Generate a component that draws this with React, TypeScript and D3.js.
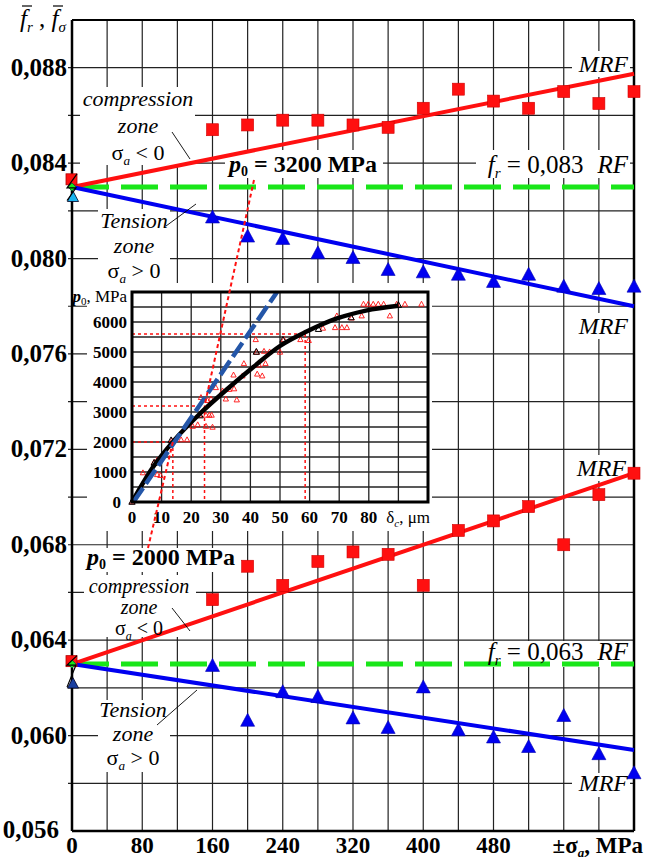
import React from "react";
import * as d3 from "d3";

const W = 656;
const H = 861;
const SERIF = "'Liberation Serif', 'Times New Roman', serif";

// Amplitude of the alternating stress, MPa
const stressLevels = [160, 200, 240, 280, 320, 360, 400, 440, 480, 520, 560, 600, 640];

// p0 = 3200 MPa
const compressionHigh = [0.0854, 0.0856, 0.0858, 0.0858, 0.0856, 0.0855, 0.0863, 0.0871, 0.0866, 0.0863, 0.087, 0.0865, 0.087];
const tensionHigh = [0.0817, 0.0809, 0.0808, 0.0802, 0.08, 0.0795, 0.0794, 0.0793, 0.079, 0.0793, 0.0788, 0.0787, 0.0788];
const rfHigh = 0.083;
const mrfCompressionHighEnd = 0.08775;
const mrfTensionHighEnd = 0.078;
const originHigh = { compression: 0.0833, tension: 0.0826 };

// p0 = 2000 MPa
const compressionLow = [0.0657, 0.0671, 0.0663, 0.0673, 0.0677, 0.0676, 0.0663, 0.0686, 0.069, 0.0696, 0.068, 0.0701, 0.071];
const tensionLow = [0.0629, 0.0606, 0.0618, 0.0616, 0.0607, 0.0603, 0.062, 0.0602, 0.0599, 0.0595, 0.0608, 0.0592, 0.0584];
const rfLow = 0.063;
const mrfCompressionLowEnd = 0.071;
const mrfTensionLowEnd = 0.0594;
const originLow = { compression: 0.0631, tension: 0.0622 };

const yTickValues = [0.056, 0.06, 0.064, 0.068, 0.072, 0.076, 0.08, 0.084, 0.088];
const yTickLabels = ["0,056", "0,060", "0,064", "0,068", "0,072", "0,076", "0,080", "0,084", "0,088"];
const xTickValues = [0, 80, 160, 240, 320, 400, 480];

// Inset: contact pressure p0 vs approach δc
const fitDelta = [0, 7, 14, 23, 32, 41, 50, 59, 69, 79, 90];
const fitPressure = [0, 1150, 2030, 2950, 3750, 4500, 5200, 5680, 6110, 6380, 6540];
const testDelta = [0, 3.7, 7.4, 8.5, 8.5, 9.6, 10.4, 13.4, 16.6, 18.6, 20.5, 22.2, 22.7, 25, 26.1, 26.9, 25, 27.2, 23.3, 25.5, 26.7, 28.3, 30.6, 31.7, 32.8, 34.5, 35.4, 34.3, 37.3, 37.8, 42.3, 44, 41.8, 42.1, 42.9, 44.6, 45.1, 46.5, 50, 51.3, 56.9, 59.7, 64.5, 68.6, 70.9, 72.6, 69.2, 74.2, 77.6, 78.2, 79.8, 81.5, 83.2, 85, 87.1, 89.4, 92.2, 97.8];
const testPressure = [0, 970, 1310, 1390, 910, 880, 1550, 2040, 2070, 2070, 2520, 2570, 2890, 2890, 2890, 2890, 2520, 2490, 3480, 3380, 3430, 3810, 3700, 3430, 3750, 3770, 3400, 4230, 4200, 4610, 4260, 4200, 5410, 4990, 4560, 5020, 4610, 5000, 4990, 5410, 5410, 5380, 5790, 5810, 5810, 5810, 6200, 6130, 6200, 6590, 6590, 6590, 6590, 6590, 6200, 6590, 6590, 6590];
const refDelta = [0, 7.5, 13.2, 23, 42, 51, 63, 74, 90];
const refPressure = [0, 1300, 2050, 2880, 5000, 5400, 5760, 6150, 6560];
const tangentDelta = [0.5, 49];
const tangentPressure = [0, 7000];
const markedDelta = [13.8, 24.5, 58.5];
const markedPressure = [2000, 3200, 5600];
const insetYTicks = [0, 1000, 2000, 3000, 4000, 5000, 6000];
const insetXTicks = [0, 10, 20, 30, 40, 50, 60, 70, 80];

const x = d3.scaleLinear().domain([0, 640]).range([72, 634]);
const y = d3.scaleLinear().domain([0.056, 0.09]).range([831, 20]);
const ix = d3.scaleLinear().domain([0, 100]).range([132, 428]);
const iy = d3.scaleLinear().domain([0, 7000]).range([502, 292]);

const RED = "#ff1010";
const BLUE = "#0000f0";
const GREEN = "#19e619";

const serifStyle: React.CSSProperties = { fontFamily: SERIF };

function tri(cx: number, cy: number, s = 1) {
  return `M${cx},${cy - 8 * s}L${cx + 7 * s},${cy + 5 * s}L${cx - 7 * s},${cy + 5 * s}Z`;
}

function ZoneLabel({ cx, top, word, sign, gap, size = 22 }: { cx: number; top: number; word: string; sign: string; gap: number; size?: number }) {
  return (
    <g style={serifStyle} fontSize={size} textAnchor="middle">
      <text x={cx} y={top} fontStyle="italic">{word}</text>
      <text x={cx} y={top + gap} fontStyle="italic">zone</text>
      <text x={cx} y={top + 2 * gap}>
        σ<tspan fontSize={size * 0.6} fontStyle="italic" dy={5}>a</tspan>
        <tspan dy={-5}> {sign} 0</tspan>
      </text>
    </g>
  );
}

function PressureLabel({ x0, base, value }: { x0: number; base: number; value: string }) {
  return (
    <text x={x0} y={base} style={serifStyle} fontSize={24} fontWeight="bold">
      <tspan fontStyle="italic">p</tspan>
      <tspan fontSize={14} dy={4}>0</tspan>
      <tspan dy={-4}> = {value} MPa</tspan>
    </text>
  );
}

function RfLabel({ x1, base, value }: { x1: number; base: number; value: string }) {
  return (
    <text x={x1} y={base} style={serifStyle} fontSize={25} textAnchor="end">
      <tspan fontStyle="italic">f</tspan>
      <tspan fontSize={15} fontStyle="italic" dy={5}>r</tspan>
      <tspan dy={-5}> = {value}</tspan>
      <tspan fontStyle="italic" dx={14}>RF</tspan>
    </text>
  );
}

function MrfLabel({ x1, base }: { x1: number; base: number }) {
  return (
    <text x={x1} y={base} style={serifStyle} fontSize={24} fontStyle="italic" textAnchor="end">MRF</text>
  );
}

function Series({ comp, tens, rf, compEnd, tensEnd }: { comp: number[]; tens: number[]; rf: number; compEnd: number; tensEnd: number }) {
  const y0 = y(rf);
  return (
    <g>
      <line x1={x(0)} y1={y0} x2={x(640)} y2={y0} stroke={GREEN} strokeWidth={5} strokeDasharray="37,12" />
      <line x1={x(0)} y1={y0} x2={x(640)} y2={y(compEnd)} stroke={RED} strokeWidth={4} />
      <line x1={x(0)} y1={y0} x2={x(640)} y2={y(tensEnd)} stroke={BLUE} strokeWidth={4} />
      {stressLevels.map((s, i) => (
        <rect key={"c" + i} x={x(s) - 6} y={y(comp[i]) - 6} width={12} height={12} fill={RED} stroke="#d00000" strokeWidth={0.6} />
      ))}
      {stressLevels.map((s, i) => (
        <path key={"t" + i} d={tri(x(s), y(tens[i]))} fill={BLUE} stroke="#0000b0" strokeWidth={0.6} />
      ))}
    </g>
  );
}

function OriginMarks({ origin, rf, tensColor }: { origin: { compression: number; tension: number }; rf: number; tensColor: string }) {
  const cx = x(0);
  const yc = y(origin.compression);
  const yr = y(rf);
  const yt = y(origin.tension);
  return (
    <g>
      <rect x={cx - 6} y={yc - 6} width={11} height={11} fill={RED} stroke="#b00000" strokeWidth={0.8} />
      <path d={tri(cx + 1, yt + 1, 0.8)} fill={tensColor} stroke="#002" strokeWidth={0.8} />
      <path d={`M${cx - 4},${yr}L${cx},${yr - 4}L${cx + 4},${yr}L${cx},${yr + 4}Z`} fill={GREEN} stroke="#063" strokeWidth={0.8} />
      <path d={`M${cx + 5},${yc - 6}L${cx - 5},${yr + 1}L${cx + 4},${yr + 1}L${cx - 5},${yt + 4}`} fill="none" stroke="#000" strokeWidth={1.2} />
    </g>
  );
}

export default function App() {
  const hGrid = d3.range(0.058, 0.0895, 0.002);
  const vGrid = d3.range(40, 640, 40);
  const insetHGrid = d3.range(500, 7000, 500);
  const insetVGrid = d3.range(10, 100, 10);

  const fitLine = d3
    .line<number>()
    .x((_, i) => ix(fitDelta[i]))
    .y((_, i) => iy(fitPressure[i]))
    .curve(d3.curveMonotoneX);

  const boxes: [number, number, number, number][] = [
    [572, 51, 58, 26],
    [80, 87, 115, 78],
    [225, 150, 158, 28],
    [476, 150, 154, 28],
    [98, 209, 72, 76],
    [572, 313, 58, 26],
    [572, 455, 58, 26],
    [82, 548, 155, 24],
    [84, 575, 112, 62],
    [476, 641, 154, 26],
    [98, 700, 72, 72],
    [572, 773, 58, 24],
  ];

  return (
    <svg width={W} height={H} viewBox={`0 0 ${W} ${H}`} style={{ display: "block", position: "absolute", left: 0, top: 0, background: "#fff" }}>
      <rect x={0} y={0} width={W} height={H} fill="#fff" />

      {/* main grid */}
      <g stroke="#222" strokeWidth={1.2}>
        {hGrid.map((v) => (
          <line key={"h" + v} x1={x(0) - 4} x2={x(640)} y1={y(v)} y2={y(v)} />
        ))}
        {vGrid.map((v) => (
          <line key={"v" + v} x1={x(v)} x2={x(v)} y1={y(0.09)} y2={y(0.056)} />
        ))}
      </g>

      {/* label backgrounds */}
      {boxes.map(([bx, by, bw, bh], i) => (
        <rect key={"b" + i} x={bx} y={by} width={bw} height={bh} fill="#fff" />
      ))}

      {/* frame */}
      <g stroke="#000" fill="none">
        <line x1={x(0)} x2={x(640)} y1={y(0.09)} y2={y(0.09)} strokeWidth={2} />
        <line x1={x(640)} x2={x(640)} y1={y(0.09)} y2={y(0.056)} strokeWidth={2.5} />
        <line x1={x(0)} x2={x(640)} y1={y(0.056)} y2={y(0.056)} strokeWidth={2.5} />
        <line x1={x(0)} x2={x(0)} y1={y(0.09)} y2={y(0.056)} strokeWidth={2.5} />
      </g>

      {/* y tick labels */}
      <g style={serifStyle} fontSize={25} fontWeight="bold" textAnchor="end">
        {yTickValues.map((v, i) =>
          v === 0.056 ? (
            <text key={v} x={59} y={y(v) + 7}>{yTickLabels[i]}</text>
          ) : (
            <text key={v} x={67} y={y(v) + 8}>{yTickLabels[i]}</text>
          )
        )}
      </g>

      {/* x tick labels */}
      <g style={serifStyle} fontSize={23} fontWeight="bold" textAnchor="middle">
        {xTickValues.map((v) => (
          <text key={v} x={x(v)} y={853}>{v}</text>
        ))}
        <text x={643} y={853} textAnchor="end">
          ±σ<tspan fontSize={13} fontStyle="italic" dy={4}>a</tspan>
          <tspan dy={-4}>, MPa</tspan>
        </text>
      </g>

      {/* y axis title */}
      <g style={serifStyle} fontSize={25} fontStyle="italic">
        <text x={20} y={27}>f<tspan fontSize={15} dy={5}>r</tspan><tspan dy={-5} fontStyle="normal"> , </tspan>f<tspan fontSize={15} dy={5}>σ</tspan></text>
        <line x1={22} x2={32} y1={6} y2={6} stroke="#000" strokeWidth={1.2} />
        <line x1={53} x2={63} y1={6} y2={6} stroke="#000" strokeWidth={1.2} />
      </g>

      {/* p0 = 3200 MPa, upper family */}
      <Series comp={compressionHigh} tens={tensionHigh} rf={rfHigh} compEnd={mrfCompressionHighEnd} tensEnd={mrfTensionHighEnd} />
      <OriginMarks origin={originHigh} rf={rfHigh} tensColor="#19b4f0" />

      {/* p0 = 2000 MPa, lower family */}
      <Series comp={compressionLow} tens={tensionLow} rf={rfLow} compEnd={mrfCompressionLowEnd} tensEnd={mrfTensionLowEnd} />
      <OriginMarks origin={originLow} rf={rfLow} tensColor="#1a3fa0" />

      {/* inset */}
      <rect x={87} y={283} width={345} height={248} fill="#fff" />
      <g stroke="#222" strokeWidth={1.3}>
        {insetHGrid.map((v) => (
          <line key={"ih" + v} x1={ix(0)} x2={ix(100)} y1={iy(v)} y2={iy(v)} />
        ))}
        {insetVGrid.map((v) => (
          <line key={"iv" + v} x1={ix(v)} x2={ix(v)} y1={iy(0)} y2={iy(7000)} />
        ))}
      </g>
      <g stroke={RED} strokeWidth={1.5} strokeDasharray="3,3" fill="none">
        {markedDelta.map((d, i) => (
          <g key={"m" + i}>
            <line x1={ix(0)} x2={ix(d)} y1={iy(markedPressure[i])} y2={iy(markedPressure[i])} />
            <line x1={ix(d)} x2={ix(d)} y1={iy(markedPressure[i])} y2={iy(0)} />
          </g>
        ))}
      </g>
      <g fill="none" stroke={RED} strokeWidth={0.9}>
        {testDelta.map((d, i) => (
          <path key={"s" + i} d={tri(ix(d), iy(testPressure[i]), 0.38)} />
        ))}
      </g>
      <path d={fitLine(fitDelta) || ""} fill="none" stroke="#000" strokeWidth={4.5} />
      <g fill="none" stroke="#000" strokeWidth={1}>
        {refDelta.map((d, i) => (
          <path key={"r" + i} d={tri(ix(d), iy(refPressure[i]), 0.45)} />
        ))}
      </g>
      <line x1={ix(tangentDelta[0])} y1={iy(tangentPressure[0])} x2={ix(tangentDelta[1])} y2={iy(tangentPressure[1])} stroke="#2456a8" strokeWidth={4.5} strokeDasharray="17,5" />
      <rect x={ix(0)} y={iy(7000)} width={ix(100) - ix(0)} height={iy(0) - iy(7000)} fill="none" stroke="#000" strokeWidth={3} />

      <g style={serifStyle} fontSize={17} fontWeight="bold">
        {insetYTicks.map((v) => (
          <text key={"iy" + v} x={v === 0 ? 121 : 127} y={iy(v) + 6} textAnchor="end">{v}</text>
        ))}
        {insetXTicks.map((v) => (
          <text key={"ix" + v} x={ix(v)} y={523} textAnchor="middle">{v}</text>
        ))}
        <text x={127} y={302} textAnchor="end" fontWeight="normal">
          <tspan fontWeight="bold" fontStyle="italic">p</tspan><tspan fontSize={11} dy={3}>0</tspan><tspan dy={-3}>, MPa</tspan>
        </text>
        <text x={430} y={523} textAnchor="end" fontWeight="normal">
          δ<tspan fontSize={11} fontStyle="italic" dy={4}>c</tspan><tspan dy={-4}>, μm</tspan>
        </text>
      </g>

      {/* pointers from the pressure labels into the inset */}
      <g stroke={RED} strokeWidth={2} strokeDasharray="4,3">
        <line x1={254} y1={180} x2={ix(markedDelta[1])} y2={iy(markedPressure[1])} />
        <line x1={148} y1={548} x2={ix(markedDelta[0])} y2={iy(markedPressure[0])} />
      </g>

      {/* leader lines */}
      <g stroke="#000" strokeWidth={0.9}>
        <line x1={172} y1={132} x2={190} y2={159} />
        <line x1={166} y1={226} x2={196} y2={204} />
        <line x1={172} y1={608} x2={190} y2={631} />
        <line x1={157} y1={725} x2={197} y2={690} />
      </g>

      {/* annotations */}
      <MrfLabel x1={628} base={72} />
      <MrfLabel x1={628} base={334} />
      <MrfLabel x1={626} base={476} />
      <MrfLabel x1={628} base={791} />
      <ZoneLabel cx={138} top={106} word="compression" sign="<" gap={27} />
      <ZoneLabel cx={134} top={228} word="Tension" sign=">" gap={25} />
      <ZoneLabel cx={139} top={593} word="compression" sign="<" gap={21} size={20} />
      <ZoneLabel cx={133} top={717} word="Tension" sign=">" gap={24} />
      <PressureLabel x0={87} base={565} value="2000" />
      <PressureLabel x0={229} base={172} value="3200" />
      <RfLabel x1={628} base={173} value="0,083" />
      <RfLabel x1={628} base={660} value="0,063" />
    </svg>
  );
}
